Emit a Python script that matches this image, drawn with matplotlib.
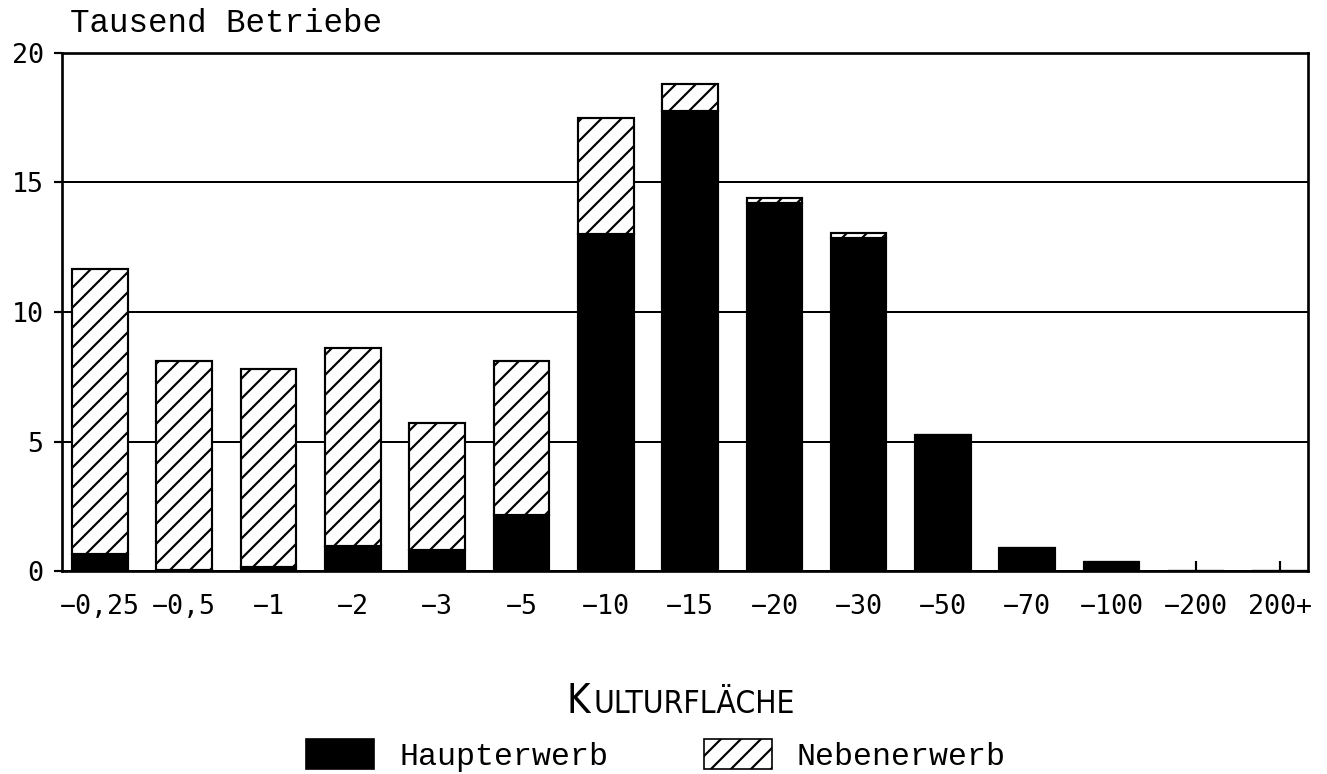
import matplotlib

matplotlib.use("Agg")
import matplotlib.pyplot as plt
from matplotlib.patches import Patch
import numpy as np

# Betriebe nach Kulturfläche (Tausend)
groessen = ["-0,25", "-0,5", "-1", "-2", "-3", "-5", "-10", "-15",
            "-20", "-30", "-50", "-70", "-100", "-200", "200+"]
haupterwerb = [0.65, 0.05, 0.15, 0.95, 0.8, 2.15, 13.0, 17.75,
               14.2, 12.85, 5.25, 0.9, 0.35, 0.0, 0.0]
nebenerwerb = [11.0, 8.05, 7.65, 7.65, 4.9, 5.95, 4.5, 1.05,
               0.2, 0.2, 0.0, 0.0, 0.0, 0.0, 0.0]
y_ticks = [0, 5, 10, 15, 20]

MONO = "Liberation Mono"
TICKFONT = "DejaVu Sans Mono"
W, H = 1327, 774

plt.rcParams["hatch.linewidth"] = 1.3
plt.rcParams["hatch.color"] = "black"

fig = plt.figure(figsize=(W / 120, H / 120), dpi=120)
ax = fig.add_axes([62 / W, 1 - 571 / H, (1308 - 62) / W, (571 - 53) / H])

x = np.arange(len(groessen))
ax.bar(x, haupterwerb, width=0.66, color="black", edgecolor="black", linewidth=1.3, zorder=3)
ax.bar(x, nebenerwerb, width=0.66, bottom=haupterwerb, color="white", edgecolor="black",
       linewidth=1.3, hatch="//", zorder=3)

ax.set_xlim(-0.45, 14.33)
ax.set_ylim(0, 20)
ax.set_yticks(y_ticks)
ax.set_yticklabels([str(v) for v in y_ticks], family=TICKFONT, fontsize=16)
ax.set_xticks(x)
ax.set_xticklabels([g.replace("-", "\u2212") for g in groessen], family=TICKFONT, fontsize=16)
ax.tick_params(axis="x", direction="in", length=6, width=1.3, pad=14)
ax.tick_params(axis="y", direction="out", length=5, width=1.3, pad=6)
ax.yaxis.grid(True, color="black", linewidth=1.2, zorder=1)
ax.set_axisbelow(True)
for s in ax.spines.values():
    s.set_linewidth(1.6)

fig.text(70 / W, 1 - 24 / H, "Tausend Betriebe", family=MONO, fontsize=19.5,
         ha="left", va="center")

# Achsentitel in Kapitälchen
x0 = 590 / W
yb = 1 - 713 / H
fig.text(x0, yb, "K", family="DejaVu Sans", fontstretch="condensed", fontweight="light",
         fontsize=24, ha="right", va="baseline")
fig.text(x0 + 3 / W, yb, "ULTURFLÄCHE", family="DejaVu Sans", fontstretch="condensed",
         fontweight="light", fontsize=19, ha="left", va="baseline")

handles = [Patch(facecolor="black", edgecolor="black"),
           Patch(facecolor="white", edgecolor="black", hatch="//")]
fig.legend(handles, ["Haupterwerb", "Nebenerwerb"], ncol=2, loc="upper center",
           bbox_to_anchor=(656 / W, 1 - 739 / H), frameon=False,
           prop={"family": MONO, "size": 19}, handlelength=2.15, handleheight=1.1,
           handletextpad=0.8, columnspacing=3.0, borderpad=0, borderaxespad=0)

fig.savefig("out.png", dpi=120)
